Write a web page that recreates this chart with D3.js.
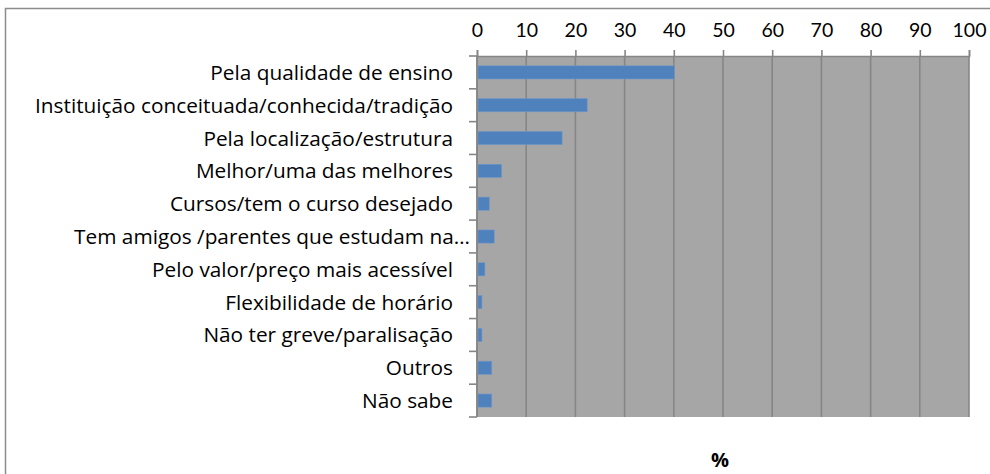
<!DOCTYPE html>
<html><head><meta charset="utf-8">
<script src="https://cdn.jsdelivr.net/npm/d3@7"></script>
<style>body{margin:0;background:#fff}svg{display:block}</style>
</head><body>
<svg id="c" width="990" height="474"></svg>
<script>
const categories = [
  "Pela qualidade de ensino",
  "Instituição conceituada/conhecida/tradição",
  "Pela localização/estrutura",
  "Melhor/uma das melhores",
  "Cursos/tem o curso desejado",
  "Tem amigos /parentes que estudam na…",
  "Pelo valor/preço mais acessível",
  "Flexibilidade de horário",
  "Não ter greve/paralisação",
  "Outros",
  "Não sabe"
];
const values = [40.1, 22.4, 17.3, 5.0, 2.5, 3.5, 1.6, 1.0, 1.0, 3.0, 3.0];
const xTicks = [0,10,20,30,40,50,60,70,80,90,100];
const axisTitle = "%";

const svg = d3.select("#c");
const font = "Lato, 'Open Sans', sans-serif";
const labelFont = "'Open Sans', Lato, sans-serif";
const L = 477, R = 969, T = 56, B = 417;

// outer frame
svg.append("rect").attr("x",5.5).attr("y",8.5).attr("width",1000).attr("height",500)
  .attr("fill","#fff").attr("stroke","#8c8c8c").attr("stroke-width",1.5);

const x = d3.scaleLinear().domain([0,100]).range([L,R]);
const y = d3.scaleBand().domain(categories).range([T,B]).paddingInner(0.6).paddingOuter(0.3);

// plot background
svg.append("rect").attr("x",x(0)).attr("y",T).attr("width",x(100)-x(0)).attr("height",B-T).attr("fill","#a6a6a6");

// gridlines
svg.append("g").selectAll("line").data(xTicks).join("line")
  .attr("x1",d=>x(d)).attr("x2",d=>x(d)).attr("y1",T).attr("y2",B)
  .attr("stroke","#868686").attr("stroke-width",1.6);

// top axis
const ax = svg.append("g").attr("transform",`translate(0,${T})`)
  .call(d3.axisTop(x).tickValues(xTicks).tickSize(6).tickPadding(13).tickFormat(d3.format("d")));
ax.select(".domain").attr("stroke","#868686").attr("stroke-width",1.6);
ax.selectAll(".tick line").attr("stroke","#868686").attr("stroke-width",1.6);
ax.selectAll("text").attr("font-family",font).attr("font-size",19.5).attr("fill","#000");

// bars
svg.append("g").selectAll("rect").data(values).join("rect")
  .attr("x",x(0)+1).attr("y",(d,i)=>y(categories[i]))
  .attr("width",d=>x(d)-x(0)-1).attr("height",y.bandwidth())
  .attr("fill","#4f81bd").attr("stroke","#6f97c9").attr("stroke-width",0.6);

// left axis: ticks at category boundaries
const bounds = d3.range(categories.length+1).map(i=>T+i*(B-T)/categories.length);
svg.append("g").selectAll("line").data(bounds).join("line")
  .attr("x1",L-8).attr("x2",L).attr("y1",d=>d).attr("y2",d=>d)
  .attr("stroke","#868686").attr("stroke-width",1.6);
svg.append("line").attr("x1",L).attr("x2",L).attr("y1",T).attr("y2",B)
  .attr("stroke","#868686").attr("stroke-width",1.6);

// category labels
svg.append("g").selectAll("text").data(categories).join("text")
  .attr("x",d=>d.endsWith("…")? L-7 : L-24)
  .attr("y",d=>y(d)+y.bandwidth()/2)
  .attr("dy","0.36em").attr("text-anchor","end")
  .attr("font-family",labelFont).attr("font-size",20.8).attr("fill","#000")
  .text(d=>d);

// axis title
svg.append("text").attr("x",720).attr("y",467).attr("text-anchor","middle")
  .attr("font-family",labelFont).attr("font-size",20).attr("font-weight","bold").text(axisTitle);
</script>
</body></html>
